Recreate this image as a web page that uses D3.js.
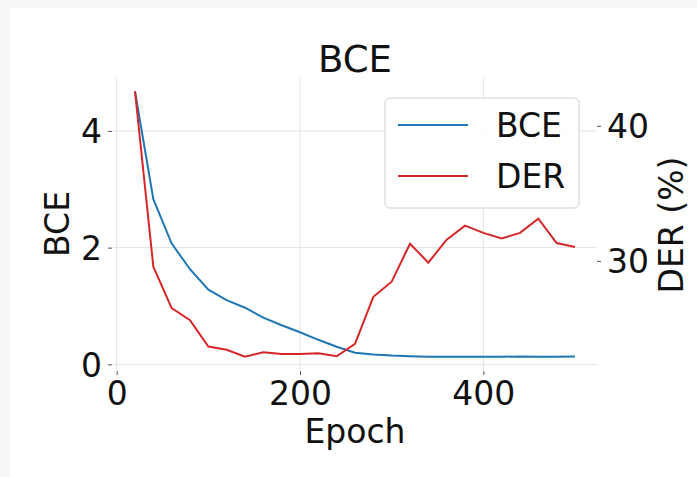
<!DOCTYPE html>
<html>
<head>
<meta charset="utf-8">
<script src="https://cdn.jsdelivr.net/npm/d3@7"></script>
<style>
  body { margin: 0; background: #f8f8f8; }
  svg { display: block; font-family: "DejaVu Sans", sans-serif; }
</style>
</head>
<body>
<svg id="chart" width="697" height="477"></svg>
<script>
// data
var epochs = [20, 40, 60, 80, 100, 120, 140, 160, 180, 200, 220, 240, 260,
              280, 300, 320, 340, 360, 380, 400, 420, 440, 460, 480, 500];
var bce = [4.68, 2.83, 2.07, 1.63, 1.28, 1.10, 0.97, 0.80, 0.67, 0.55, 0.42, 0.30, 0.20,
           0.17, 0.15, 0.14, 0.13, 0.13, 0.13, 0.13, 0.13, 0.135, 0.13, 0.13, 0.135];
var der = [42.56, 29.57, 26.5, 25.6, 23.66, 23.41, 22.9, 23.23, 23.1, 23.1, 23.15, 22.93, 23.86,
           27.34, 28.46, 31.27, 29.87, 31.57, 32.61, 32.07, 31.66, 32.07, 33.13, 31.32, 31.02];
var xTicks = [0, 200, 400];
var leftTicks = [0, 2, 4];
var rightTicks = [30, 40];
var seriesNames = ["BCE", "DER"];
var seriesColors = ["#1f77b4", "#d62728"];

var svg = d3.select("#chart");
var margin = {left: 113, right: 100, top: 78, bottom: 107};
var W = 697, H = 477;

// white panel
svg.append("rect").attr("x", 10).attr("y", 8).attr("width", W - 10).attr("height", H - 8)
  .attr("fill", "white");

// matplotlib style 5% padding
function padded(vals) {
  var e = d3.extent(vals), p = (e[1] - e[0]) * 0.05;
  return [e[0] - p, e[1] + p];
}

var x = d3.scaleLinear().domain(padded(epochs)).range([margin.left, W - margin.right]);
var yL = d3.scaleLinear().domain(padded(bce)).range([H - margin.bottom, margin.top]);
var yR = d3.scaleLinear().domain(padded(der)).range([H - margin.bottom, margin.top]);

var g = svg.append("g");

// grid
g.selectAll(".vg").data(xTicks).enter().append("line")
  .attr("x1", d => x(d)).attr("x2", d => x(d))
  .attr("y1", margin.top).attr("y2", H - margin.bottom)
  .attr("stroke", "#e3e3e3").attr("stroke-width", 1);
g.selectAll(".hg").data(leftTicks).enter().append("line")
  .attr("x1", margin.left).attr("x2", W - margin.right)
  .attr("y1", d => yL(d)).attr("y2", d => yL(d))
  .attr("stroke", "#e3e3e3").attr("stroke-width", 1);

// axes (no spines)
function styleAxis(sel) {
  sel.select(".domain").remove();
  sel.selectAll(".tick line").attr("stroke", "#555").attr("stroke-width", 1);
  sel.selectAll(".tick text").attr("fill", "#111").style("font-size", "33px")
    .style("font-family", "DejaVu Sans, sans-serif");
}
svg.append("g").attr("transform", "translate(0," + (H - margin.bottom + 1) + ")")
  .call(d3.axisBottom(x).tickValues(xTicks).tickSize(4).tickPadding(7).tickFormat(d3.format("d")))
  .call(styleAxis);
svg.append("g").attr("transform", "translate(" + (margin.left - 1) + ",0)")
  .call(d3.axisLeft(yL).tickValues(leftTicks).tickSize(4).tickPadding(6).tickFormat(d3.format("d")))
  .call(styleAxis)
  .selectAll(".tick text").attr("dy", "0.36em");
svg.append("g").attr("transform", "translate(" + (W - margin.right) + ",0)")
  .call(d3.axisRight(yR).tickValues(rightTicks).tickSize(4).tickPadding(6).tickFormat(d3.format("d")))
  .call(styleAxis)
  .selectAll(".tick text").attr("dy", "0.36em");

// lines
var lineL = d3.line().x((d, i) => x(epochs[i])).y(d => yL(d));
var lineR = d3.line().x((d, i) => x(epochs[i])).y(d => yR(d));
svg.append("path").datum(bce).attr("d", lineL).attr("fill", "none")
  .attr("stroke", seriesColors[0]).attr("stroke-width", 2);
svg.append("path").datum(der).attr("d", lineR).attr("fill", "none")
  .attr("stroke", seriesColors[1]).attr("stroke-width", 2);

// title and labels
svg.append("text").attr("x", (margin.left + W - margin.right) / 2).attr("y", 72)
  .attr("text-anchor", "middle").style("font-size", "37px").attr("fill", "#111").text("BCE");
svg.append("text").attr("x", (margin.left + W - margin.right) / 2).attr("y", 443)
  .attr("text-anchor", "middle").style("font-size", "33px").attr("fill", "#111").text("Epoch");
svg.append("text").attr("transform", "translate(69,224) rotate(-90)")
  .attr("text-anchor", "middle").style("font-size", "33px").attr("fill", "#111").text("BCE");
svg.append("text").attr("transform", "translate(683,225) rotate(-90)")
  .attr("text-anchor", "middle").style("font-size", "33px").attr("fill", "#111").text("DER (%)");

// legend
var leg = svg.append("g");
leg.append("rect").attr("x", 385).attr("y", 98).attr("width", 194).attr("height", 110)
  .attr("rx", 5).attr("fill", "white").attr("fill-opacity", 0.85)
  .attr("stroke", "#d0d0d0").attr("stroke-width", 1);
seriesNames.forEach(function(name, i) {
  var yy = 125 + i * 51;
  leg.append("line").attr("x1", 398).attr("x2", 468).attr("y1", yy).attr("y2", yy)
    .attr("stroke", seriesColors[i]).attr("stroke-width", 2);
  leg.append("text").attr("x", 496).attr("y", yy + 12).style("font-size", "33px")
    .attr("fill", "#111").text(name);
});
</script>
</body>
</html>
